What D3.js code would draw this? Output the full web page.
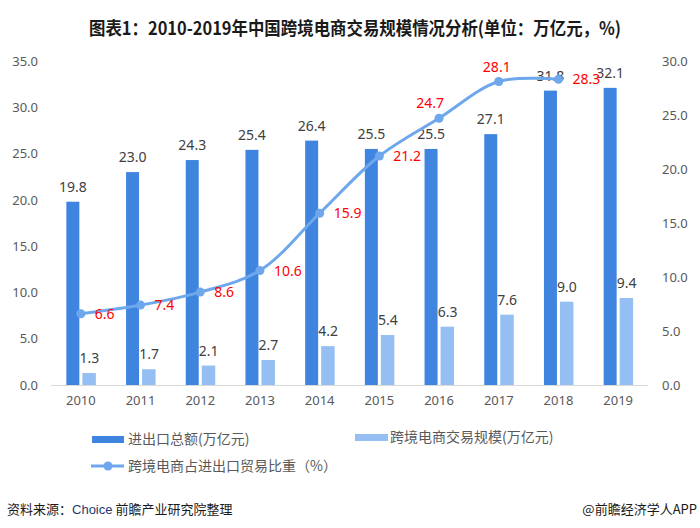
<!DOCTYPE html>
<html><head><meta charset="utf-8">
<script src="https://cdn.jsdelivr.net/npm/d3@7"></script>
<style>
body{margin:0;background:#fff;}
svg{display:block;font-family:"Noto Sans CJK SC","Noto Sans",sans-serif;}
</style></head>
<body><svg id="chart" width="700" height="528"></svg>
<script>
const years = ['2010','2011','2012','2013','2014','2015','2016','2017','2018','2019'];
const totalTrade = [19.8,23.0,24.3,25.4,26.4,25.5,25.5,27.1,31.8,32.1];
const cbeScale = [1.3,1.7,2.1,2.7,4.2,5.4,6.3,7.6,9.0,9.4];
const shareYears = ['2010','2011','2012','2013','2014','2015','2016','2017','2018'];
const shareValues = [6.6,7.4,8.6,10.6,15.9,21.2,24.7,28.1,28.3];
const leftTicks = [0,5,10,15,20,25,30,35];
const rightTicks = [0,5,10,15,20,25,30];
const seriesNames = ['进出口总额(万亿元)','跨境电商交易规模(万亿元)','跨境电商占进出口贸易比重（%）'];
const titleText = '图表1：2010-2019年中国跨境电商交易规模情况分析(单位：万亿元，%)';

const C1 = '#3f85e0', C2 = '#95bff3', CL = '#6ea7ec';
const svg = d3.select('#chart');

const x = d3.scaleBand().domain(years).range([51, 648]).padding(0);
const yL = d3.scaleLinear().domain([0,35]).range([385, 61]);
const yR = d3.scaleLinear().domain([0,30]).range([385, 61]);
const cx = d => x(d) + x.bandwidth()/2;
const bw = 13;

// title
svg.append('text').attr('x', 355).attr('y', 35).attr('text-anchor','middle')
  .attr('font-size', 18).attr('font-weight','bold').attr('fill','#1a1a1a')
  .attr('textLength', 532).attr('lengthAdjust','spacingAndGlyphs')
  .text(titleText);

// baseline
svg.append('line').attr('x1', 51).attr('x2', 648).attr('y1', 385.5).attr('y2', 385.5)
  .attr('stroke', '#d9d9d9').attr('stroke-width', 1);

// left axis
const axL = d3.axisLeft(yL).tickValues(leftTicks).tickFormat(d3.format('.1f')).tickSize(0).tickPadding(0);
const gL = svg.append('g').attr('transform','translate(38,0)').call(axL);
gL.select('.domain').remove();
gL.selectAll('text').attr('font-size',13).attr('fill','#595959').attr('font-family','"Noto Sans",sans-serif');

// right axis
const axR = d3.axisRight(yR).tickValues(rightTicks).tickFormat(d3.format('.1f')).tickSize(0).tickPadding(0);
const gR = svg.append('g').attr('transform','translate(662,0)').call(axR);
gR.select('.domain').remove();
gR.selectAll('text').attr('font-size',13).attr('fill','#595959').attr('font-family','"Noto Sans",sans-serif');

// x axis labels
const axB = d3.axisBottom(x).tickSize(0).tickPadding(0);
const gB = svg.append('g').attr('transform','translate(0,396)').call(axB);
gB.select('.domain').remove();
gB.selectAll('text').attr('font-size',13).attr('fill','#595959').attr('font-family','"Noto Sans",sans-serif');

// bars
svg.append('g').selectAll('rect').data(years).join('rect')
  .attr('x', (d)=>cx(d) - 14.5).attr('width', bw)
  .attr('y', (d,i)=>yL(totalTrade[i])).attr('height',(d,i)=>yL(0)-yL(totalTrade[i]))
  .attr('fill', C1);
svg.append('g').selectAll('rect').data(years).join('rect')
  .attr('x', (d)=>cx(d) + 1.5).attr('width', bw+0.5)
  .attr('y', (d,i)=>yL(cbeScale[i])).attr('height',(d,i)=>yL(0)-yL(cbeScale[i]))
  .attr('fill', C2);

// bar labels
svg.append('g').selectAll('text').data(years).join('text')
  .attr('x', d=>cx(d) - 8).attr('y', (d,i)=>yL(totalTrade[i]) - 10)
  .attr('text-anchor','middle').attr('font-size',14).attr('fill','#404040')
  .attr('font-family','"Noto Sans",sans-serif')
  .text((d,i)=>d3.format('.1f')(totalTrade[i]));
svg.append('g').selectAll('text').data(years).join('text')
  .attr('x', d=>cx(d) + 8.5).attr('y', (d,i)=>yL(cbeScale[i]) - 10)
  .attr('text-anchor','middle').attr('font-size',14).attr('fill','#404040')
  .attr('font-family','"Noto Sans",sans-serif')
  .text((d,i)=>d3.format('.1f')(cbeScale[i]));

// line
const pts = shareYears.map((d,i)=>[cx(d), yR(shareValues[i])]);
svg.append('path').attr('d', d3.line().curve(d3.curveCatmullRom.alpha(0.5))(pts))
  .attr('fill','none').attr('stroke', CL).attr('stroke-width', 3);
svg.append('g').selectAll('circle').data(pts).join('circle')
  .attr('cx', d=>d[0]).attr('cy', d=>d[1]).attr('r', 4.5).attr('fill', CL);

// line labels (above for the upper bend, otherwise right)
svg.append('g').selectAll('text').data(shareYears).join('text')
  .each(function(d,i){
    const px = cx(d), py = yR(shareValues[i]);
    const sel = d3.select(this);
    if (d === '2016') sel.attr('x', px - 9).attr('y', py - 10).attr('text-anchor','middle');
    else if (d === '2017') sel.attr('x', px - 2).attr('y', py - 10).attr('text-anchor','middle');
    else sel.attr('x', px + 14).attr('y', py + 5).attr('text-anchor','start');
  })
  .attr('font-size',14).attr('fill','#ff0000').attr('font-family','"Noto Sans",sans-serif')
  .text((d,i)=>d3.format('.1f')(shareValues[i]));

// legend
const lg = svg.append('g').attr('font-size',14).attr('fill','#595959');
lg.append('rect').attr('x',92).attr('y',436).attr('width',32).attr('height',7).attr('fill',C1);
lg.append('text').attr('x',128).attr('y',444).text(seriesNames[0]);
lg.append('rect').attr('x',355).attr('y',434).attr('width',33).attr('height',7).attr('fill',C2);
lg.append('text').attr('x',390).attr('y',442).text(seriesNames[1]);
lg.append('line').attr('x1',91).attr('x2',124).attr('y1',466).attr('y2',466).attr('stroke',CL).attr('stroke-width',3);
lg.append('circle').attr('cx',108).attr('cy',466).attr('r',4.5).attr('fill',CL);
lg.append('text').attr('x',128).attr('y',471).text(seriesNames[2]);

// footer
const ft = svg.append('text').attr('x',7).attr('y',514).attr('font-size',13).attr('fill','#1a1a1a');
ft.append('tspan').text('资料来源：');
ft.append('tspan').attr('fill','#1f3a6e').attr('font-family','"Liberation Sans",sans-serif').text('Choice');
ft.append('tspan').text(' 前瞻产业研究院整理');
svg.append('text').attr('x',697).attr('y',514).attr('text-anchor','end').attr('font-size',13).attr('fill','#1a1a1a')
  .text('@前瞻经济学人APP');
</script></body></html>
